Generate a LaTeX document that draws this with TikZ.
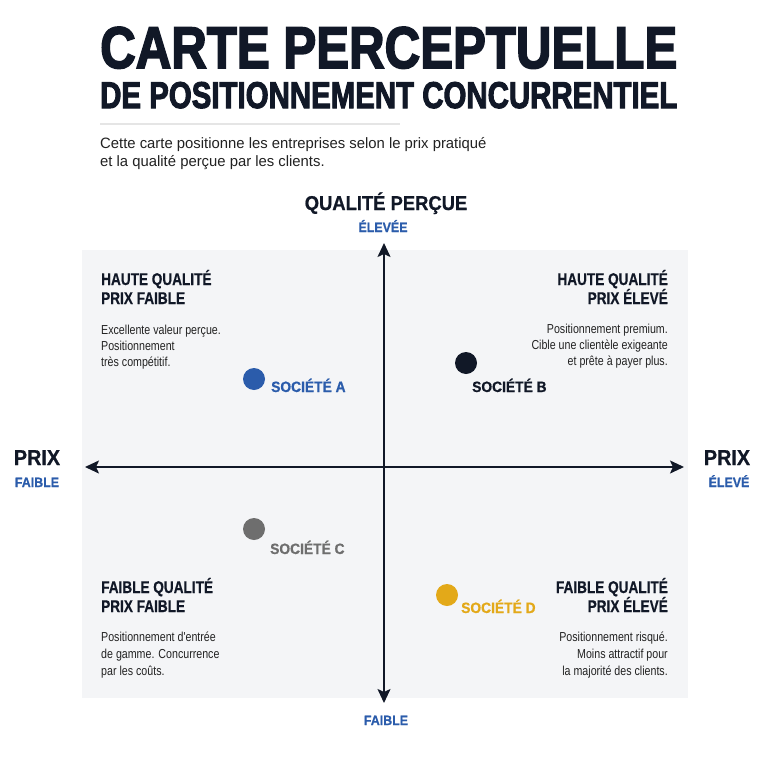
\documentclass[tikz,border=0pt]{standalone}
\usepackage{fontspec}
\setmainfont{Liberation Sans}[BoldFeatures={FakeBold=3}]
\newfontfamily\condb{Liberation Sans}[FakeStretch=0.8,BoldFeatures={FakeBold=0.5}]
\newfontfamily\condm{Liberation Sans}[FakeStretch=0.92,BoldFeatures={FakeBold=0.6}]
\newfontfamily\condr{Liberation Sans}[FakeStretch=0.82]
\newfontfamily\sbtf{Liberation Sans}[FakeStretch=0.99]
\usetikzlibrary{arrows.meta}
\definecolor{navy}{HTML}{111827}
\definecolor{accblue}{HTML}{2B5CAB}
\definecolor{dotgray}{HTML}{6E6E6E}
\definecolor{gold}{HTML}{E3A919}
\definecolor{panel}{HTML}{F4F5F7}
\definecolor{bodyc}{HTML}{222222}
\begin{document}
\begin{tikzpicture}[x=1pt,y=-1pt,
  qtitle/.style={font=\condb\bfseries\fontsize{17}{18}\selectfont,text=navy,inner sep=0pt},
  qbody/.style={font=\condr\fontsize{13}{14}\selectfont,text=bodyc,inner sep=0pt},
  axlab/.style={font=\condm\bfseries\fontsize{20}{22}\selectfont,text=navy,inner sep=0pt},
  axsub/.style={font=\condm\bfseries\fontsize{13.5}{14}\selectfont,text=accblue,inner sep=0pt},
  comp/.style={font=\condm\bfseries\fontsize{15}{16}\selectfont,inner sep=0pt},
  dot/.style={circle,inner sep=0pt,minimum size=22pt},
  axis/.style={line width=1.8pt,draw=navy,-{Stealth[length=14pt,width=13pt,inset=3pt]}}]
\useasboundingbox (0,0) rectangle (768,768);
\fill[white] (0,0) rectangle (768,768);
% title
\node[anchor=base west,inner sep=0pt,text=navy] (t1) at (100,68)
  {\resizebox{577pt}{41pt}{\bfseries CARTE PERCEPTUELLE}};
\node[anchor=base west,inner sep=0pt,text=navy] (t2) at (100,108)
  {\resizebox{577pt}{26pt}{\bfseries DE POSITIONNEMENT CONCURRENTIEL}};
\coordinate (r1) at (100,124);
\coordinate (r2) at (400,124);
\draw[line width=1.5pt,draw=black!10] (r1) -- (r2);
\node[anchor=base west,inner sep=0pt,font=\sbtf\fontsize{15}{16}\selectfont,text=bodyc] (s1) at (100,148)
  {Cette carte positionne les entreprises selon le prix pratiqué};
\node[anchor=base west,inner sep=0pt,font=\sbtf\fontsize{15}{16}\selectfont,text=bodyc] (s2) at (100,166)
  {et la qualité perçue par les clients.};
% panel
\fill[panel] (82,250) rectangle (688,698);
% axes
\coordinate (xl) at (85,467);
\coordinate (xr) at (684,467);
\coordinate (yt) at (384,243);
\coordinate (yb) at (384,703);
\coordinate (xc) at (384,467);
\draw[axis] (xc) -- (xl);
\draw[axis] (xc) -- (xr);
\draw[axis] (xc) -- (yt);
\draw[axis] (xc) -- (yb);
% axis labels
\node[axlab,anchor=base] (qp) at (386,210) {QUALITÉ PERÇUE};
\node[axsub,anchor=base] (qh) at (383,232) {ÉLEVÉE};
\node[axsub,anchor=base] (ql) at (386,725) {FAIBLE};
\node[axlab,anchor=base,font=\condm\bfseries\fontsize{21.5}{22}\selectfont] (pl) at (37,465) {PRIX};
\node[axsub,anchor=base] (plf) at (37,487) {FAIBLE};
\node[axlab,anchor=base,font=\condm\bfseries\fontsize{21.5}{22}\selectfont] (pr) at (727,465) {PRIX};
\node[axsub,anchor=base] (pre) at (729,487) {ÉLEVÉ};
% quadrant texts
\node[qtitle,anchor=base west] (a1) at (101,285) {HAUTE QUALITÉ};
\node[qtitle,anchor=base west] (a2) at (101,304) {PRIX FAIBLE};
\node[qbody,anchor=base west] (a3) at (101,334) {Excellente valeur perçue.};
\node[qbody,anchor=base west] (a4) at (101,350) {Positionnement};
\node[qbody,anchor=base west] (a5) at (101,366) {très compétitif.};
\node[qtitle,anchor=base east] (b1) at (668,285) {HAUTE QUALITÉ};
\node[qtitle,anchor=base east] (b2) at (668,304) {PRIX ÉLEVÉ};
\node[qbody,anchor=base east] (b3) at (668,333) {Positionnement premium.};
\node[qbody,anchor=base east] (b4) at (668,349) {Cible une clientèle exigeante};
\node[qbody,anchor=base east] (b5) at (668,365) {et prête à payer plus.};
\node[qtitle,anchor=base west] (c1) at (101,593) {FAIBLE QUALITÉ};
\node[qtitle,anchor=base west] (c2) at (101,612) {PRIX FAIBLE};
\node[qbody,anchor=base west] (c3) at (101,641) {Positionnement d'entrée};
\node[qbody,anchor=base west] (c4) at (101,658) {de gamme. Concurrence};
\node[qbody,anchor=base west] (c5) at (101,675) {par les coûts.};
\node[qtitle,anchor=base east] (d1) at (668,593) {FAIBLE QUALITÉ};
\node[qtitle,anchor=base east] (d2) at (668,612) {PRIX ÉLEVÉ};
\node[qbody,anchor=base east] (d3) at (668,641) {Positionnement risqué.};
\node[qbody,anchor=base east] (d4) at (668,658) {Moins attractif pour};
\node[qbody,anchor=base east] (d5) at (668,675) {la majorité des clients.};
% companies
\node[dot,fill=accblue] (dA) at (254,379) {};
\node[comp,text=accblue,anchor=base west] (lA) at (271,392) {SOCIÉTÉ A};
\node[dot,fill=navy] (dB) at (466,363) {};
\node[comp,text=navy,anchor=base west] (lB) at (472,392) {SOCIÉTÉ B};
\node[dot,fill=dotgray] (dC) at (254,529) {};
\node[comp,text=dotgray,anchor=base west] (lC) at (270,554) {SOCIÉTÉ C};
\node[dot,fill=gold] (dD) at (447,595) {};
\node[comp,text=gold,anchor=base west] (lD) at (461,613) {SOCIÉTÉ D};
\end{tikzpicture}
\end{document}
